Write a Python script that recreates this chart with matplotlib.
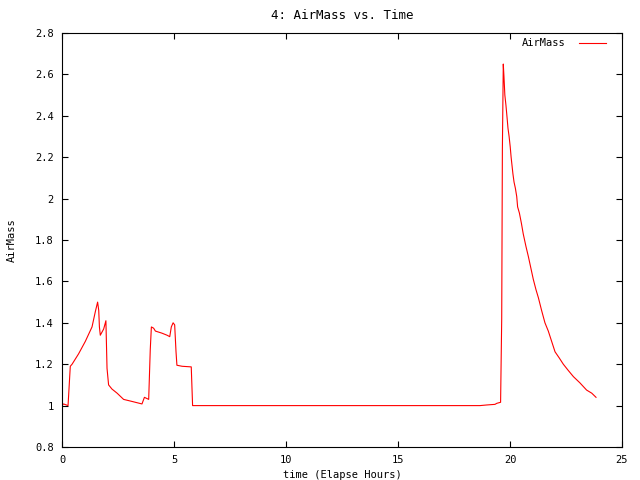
import matplotlib
matplotlib.use("Agg")
import matplotlib.pyplot as plt
from matplotlib.ticker import FuncFormatter

# time in hours and airmass
time_hours = [
    0.0, 0.07, 0.27, 0.37, 0.45, 0.74, 1.04, 1.34, 1.49, 1.59, 1.64, 1.67,
    1.71, 1.86, 1.96, 2.01, 2.08, 2.23, 2.46, 2.75, 3.13, 3.57, 3.68, 3.87,
    3.94, 3.99, 4.09, 4.17, 4.46, 4.69, 4.81, 4.88, 4.96, 5.03, 5.09, 5.13,
    5.36, 5.77, 5.83, 10.0, 15.0, 18.66, 18.96, 19.33, 19.41, 19.58, 19.63,
    19.66, 19.70, 19.73, 19.77, 19.82, 19.87, 19.91, 19.96, 20.01, 20.05,
    20.09, 20.13, 20.18, 20.24, 20.30, 20.34, 20.42, 20.51, 20.59, 20.71,
    20.82, 20.92, 21.04, 21.16, 21.27, 21.41, 21.56, 21.71, 21.86, 22.01,
    22.20, 22.38, 22.60, 22.83, 23.12, 23.42, 23.65, 23.84,
]
airmass = [
    1.0, 1.008, 1.0, 1.19, 1.20, 1.25, 1.31, 1.38, 1.455, 1.50, 1.46, 1.38,
    1.34, 1.37, 1.41, 1.18, 1.10, 1.08, 1.06, 1.03, 1.02, 1.008, 1.04, 1.03,
    1.27, 1.38, 1.374, 1.36, 1.35, 1.34, 1.333, 1.38, 1.40, 1.39, 1.26, 1.195,
    1.19, 1.187, 1.0, 1.0, 1.0, 1.0, 1.003, 1.006, 1.011, 1.016, 1.42,
    2.24, 2.65, 2.59, 2.50, 2.45, 2.39, 2.34, 2.30, 2.25, 2.20,
    2.16, 2.12, 2.08, 2.05, 2.01, 1.96, 1.93, 1.88, 1.83, 1.77,
    1.72, 1.67, 1.61, 1.56, 1.52, 1.46, 1.40, 1.36, 1.31, 1.26,
    1.23, 1.20, 1.17, 1.14, 1.11, 1.075, 1.06, 1.04,
]

x_ticks = [0, 5, 10, 15, 20, 25]
y_ticks = [0.8, 1.0, 1.2, 1.4, 1.6, 1.8, 2.0, 2.2, 2.4, 2.6, 2.8]

plt.rcParams['font.family'] = ['DejaVu Sans Mono']
plt.rcParams['font.size'] = 7.5

fig = plt.figure(figsize=(6.4, 4.8), dpi=100)
ax = fig.add_axes([62 / 640, 1 - 447 / 480, 560 / 640, 414 / 480])

ax.plot(time_hours, airmass, color="red", linewidth=0.8, label="AirMass")

ax.set_xlim(0, 25)
ax.set_ylim(0.8, 2.8)
ax.set_xticks(x_ticks)
ax.set_yticks(y_ticks)
ax.yaxis.set_major_formatter(FuncFormatter(lambda v, p: f"{v:g}"))

ax.tick_params(direction="in", length=4.5, width=0.8, top=True, right=True,
               pad=6, colors="black")
for side in ax.spines.values():
    side.set_linewidth(0.8)

ax.set_title("4: AirMass vs. Time", pad=10)
ax.set_xlabel("time (Elapse Hours)", labelpad=3)
ax.set_ylabel("AirMass", labelpad=13)

ax.legend(loc="upper right", frameon=False, markerfirst=False,
          handlelength=2.6, borderaxespad=1.1, handletextpad=1.3,
          bbox_to_anchor=(1.0, 1.025))

fig.savefig("out.png", dpi=100)
